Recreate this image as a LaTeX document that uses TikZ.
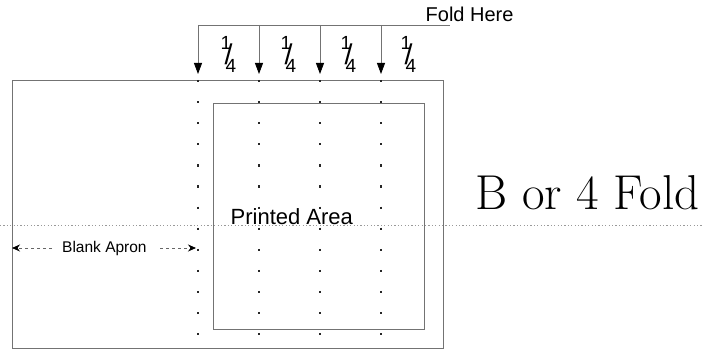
\documentclass[tikz,border=0pt]{standalone}
\usepackage{fontspec}
\newfontfamily\arial{Liberation Sans}
\usetikzlibrary{arrows.meta}
\newcommand\qfrac{\makebox[0pt][l]{\raisebox{23pt}{1}}\makebox[0pt][l]{\hspace{4pt}\raisebox{8pt}{\scalebox{1.5}[1.5]{/}}}\makebox[0pt][l]{\hspace{5pt}4}\hspace{14pt}}
\tikzset{
  edge/.style={draw=black!55, line width=0.9pt},
  dotcol/.style={draw=black!85, line width=2pt, dash pattern=on 2.2pt off 18.9pt},
  midline/.style={draw=black!40, line width=0.8pt, dash pattern=on 1.2pt off 2.2pt},
  foldarrow/.style={draw=black!55, line width=0.8pt, -{Triangle[width=8pt,length=11pt,color=black]}},
  apronarrow/.style={draw=black!60, line width=0.8pt, dashed, -{Stealth[width=7pt,length=8pt,color=black]}},
  lbl/.style={inner sep=0pt, anchor=base west},
}
\begin{document}
\begin{tikzpicture}[x=1pt,y=-1pt]
\useasboundingbox (0,0) rectangle (702,352);
% horizontal mid line
\draw[midline] (0,225) -- (702,225);
% outer sheet and printed area
\draw[edge] (12,80) rectangle (443,348);
\draw[edge] (213,103) rectangle (424,329);
% fold columns
\foreach \i/\x in {1/198,2/259,3/320,4/381}{
  \coordinate (t\i) at (\x,25);
  \coordinate (h\i) at (\x,74);
  \coordinate (ds\i) at (\x,80);
  \coordinate (de\i) at (\x,336);
  \draw[dotcol] (ds\i) -- (de\i);
  \draw[foldarrow] (t\i) -- (h\i);
}
\coordinate (fend) at (450,25);
\draw[edge, line width=0.8pt] (t1) -- (fend);
% fractions
\foreach \i/\x in {1/220,2/280,3/340,4/400}{
  \node[lbl, font=\arial\fontsize{19}{19}\selectfont] (q\i) at (\x,73) {\qfrac};
}
\node[lbl, font=\arial\fontsize{20}{20}\selectfont] (fold) at (425.5,22) {Fold Here};
\node[lbl, font=\arial\fontsize{22}{22}\selectfont] (printed) at (230.5,225) {Printed Area};
\node[lbl, font=\arial\fontsize{15.5}{15.5}\selectfont] (apron) at (62,253) {Blank Apron};
\coordinate (al) at (12,248);
\coordinate (ar) at (196,248);
\coordinate (als) at (52,248);
\coordinate (ars) at (160,248);
\draw[apronarrow] (als) -- (al);
\draw[apronarrow] (ars) -- (ar);
\node[lbl, font=\fontsize{49}{49}\selectfont] (title) at (475,210) {B or 4 Fold};
\end{tikzpicture}
\end{document}
